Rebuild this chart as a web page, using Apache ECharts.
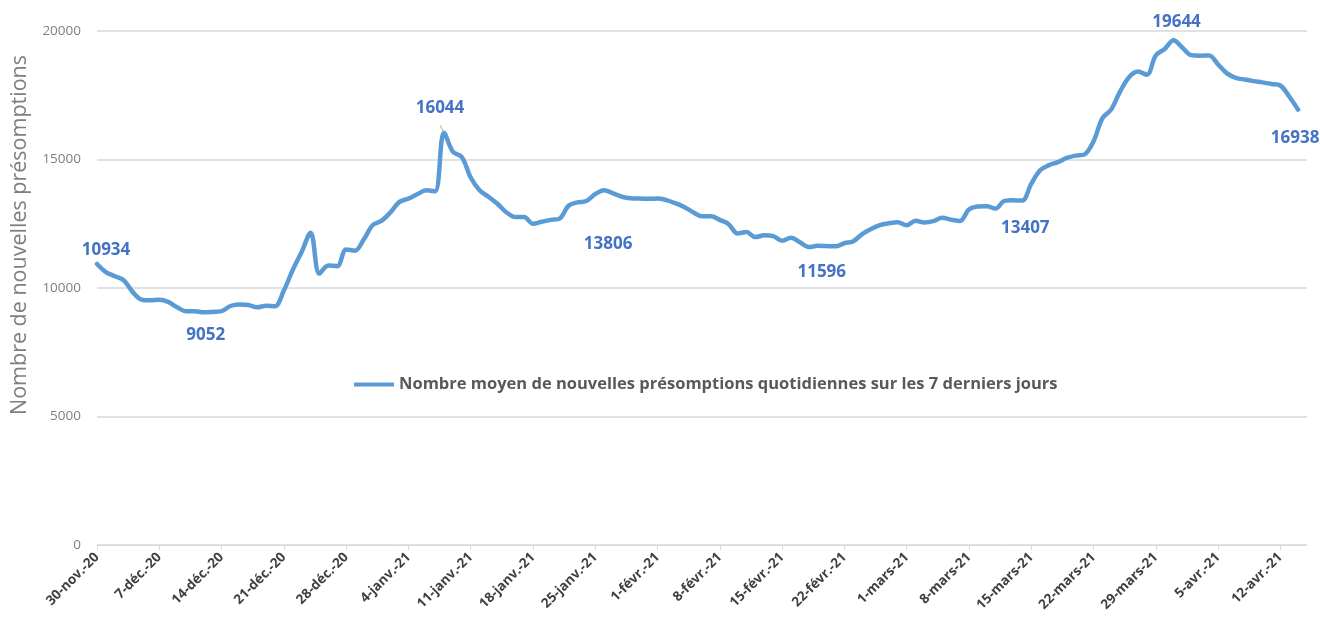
<!DOCTYPE html>
<html>
<head>
<meta charset="utf-8">
<script src="https://cdn.jsdelivr.net/npm/echarts@6/dist/echarts.min.js"></script>
<style>
  html, body { margin: 0; padding: 0; background: #fff; }
  #main { width: 1320px; height: 622px; }
</style>
</head>
<body>
<div id="main"></div>
<script>
// mois en français (format Excel)
var moisFr = ['janv.', 'févr.', 'mars', 'avr.', 'mai', 'juin', 'juil.', 'août', 'sept.', 'oct.', 'nov.', 'déc.'];

// moyenne glissante 7 jours, du 30-nov.-20 au 14-avr.-21
var valeurs = [
    10934, 10620, 10460, 10300, 9850, 9550, 9520, 9540, 9460, 9250,
    9100, 9100, 9052, 9070, 9100, 9300, 9360, 9340, 9250, 9310,
    9290, 9900, 10700, 11400, 12150, 10560, 10880, 10850, 11500, 11450,
    11900, 12450, 12620, 12950, 13350, 13480, 13650, 13800, 13760, 16044,
    15300, 15100, 14300, 13800, 13550, 13280, 12950, 12760, 12760, 12500,
    12580, 12650, 12700, 13200, 13330, 13386, 13650, 13806, 13680, 13550,
    13490, 13480, 13470, 13480, 13420, 13300, 13150, 12950, 12790, 12790,
    12650, 12480, 12120, 12180, 11980, 12050, 12020, 11840, 11960, 11780,
    11596, 11640, 11630, 11620, 11740, 11820, 12100, 12300, 12450, 12520,
    12560, 12440, 12620, 12550, 12600, 12730, 12660, 12610, 13050, 13170,
    13180, 13090, 13390, 13410, 13407, 14050, 14580, 14780, 14900, 15060,
    15150, 15200, 15700, 16600, 16950, 17650, 18200, 18420, 18300, 19050,
    19300, 19644, 19350, 19060, 19040, 19050, 18700, 18350, 18180, 18110,
    18050, 18000, 17940, 17880, 17450, 16938
];

// points annotés
var indicesEtiquetes = [0, 12, 39, 57, 80, 104, 121, 135];

// dates (un jour de plus en fin d'axe, sans valeur)
var dates = [];
var d0 = new Date(2020, 10, 30);
for (var i = 0; i < valeurs.length + 1; i++) {
    var d = new Date(d0.getFullYear(), d0.getMonth(), d0.getDate() + i);
    dates.push(d.getDate() + '-' + moisFr[d.getMonth()] + '-' + String(d.getFullYear()).slice(2));
}

var serieNom = 'Nombre moyen de nouvelles présomptions quotidiennes sur les 7 derniers jours';

// réglages d'étiquette pour chaque point annoté
var reglages = {
    0:   { position: 'top',    distance: 5,  offset: [9, 0] },
    12:  { position: 'bottom', distance: 14, offset: [2, 0] },
    39:  { position: 'top',    distance: 16, offset: [-4, 0], trait: true },
    57:  { position: 'bottom', distance: 45, offset: [4, 0] },
    80:  { position: 'bottom', distance: 17, offset: [13, 0] },
    104: { position: 'bottom', distance: 19, offset: [3, 0] },
    121: { position: 'top',    distance: 9,  offset: [3, 0] },
    135: { position: 'bottom', distance: 20, offset: [-3, 0] }
};

var donnees = valeurs.map(function (v, idx) {
    if (indicesEtiquetes.indexOf(idx) < 0) return v;
    var r = reglages[idx];
    return {
        value: v,
        label: {
            show: true,
            position: r.position,
            distance: r.distance,
            offset: r.offset
        },
        labelLine: { show: !!r.trait }
    };
});
donnees.push(null);

var chart = echarts.init(document.getElementById('main'));

var option = {
    animation: false,
    backgroundColor: '#ffffff',
    grid: {
        left: 97,
        right: 13,
        top: 31,
        bottom: 77
    },
    legend: {
        left: 349,
        top: 371,
        itemWidth: 40,
        itemHeight: 14,
        icon: 'path://M0,5 L40,5 L40,9 L0,9 Z',
        textStyle: {
            fontFamily: 'Open Sans',
            fontWeight: 'bold',
            fontSize: 16.5,
            color: '#595959'
        },
        data: [serieNom]
    },
    xAxis: {
        type: 'category',
        data: dates,
        boundaryGap: false,
        axisLine: { lineStyle: { color: '#d9d9d9', width: 1 } },
        axisTick: { interval: 6, length: 5, lineStyle: { color: '#d9d9d9' } },
        axisLabel: {
            interval: 6,
            rotate: 45,
            margin: 10,
            fontFamily: 'Open Sans',
            fontWeight: 'bold',
            fontSize: 13.5,
            color: '#404040'
        },
        splitLine: { show: false }
    },
    yAxis: {
        type: 'value',
        min: 0,
        max: 20000,
        interval: 5000,
        axisLine: { show: false },
        axisTick: { show: false },
        axisLabel: {
            margin: 16,
            fontFamily: 'Open Sans',
            fontSize: 13.5,
            color: '#7f7f7f',
            formatter: function (v) { return String(v); }
        },
        splitLine: { lineStyle: { color: '#d9d9d9', width: 1.5 } }
    },
    graphic: [
        {
            type: 'text',
            x: 20,
            y: 235,
            rotation: Math.PI / 2,
            style: {
                text: 'Nombre de nouvelles présomptions',
                fontFamily: 'Open Sans',
                fontSize: 21.5,
                fill: '#7f7f7f',
                align: 'center',
                verticalAlign: 'middle'
            }
        }
    ],
    series: [
        {
            name: serieNom,
            type: 'line',
            data: donnees,
            smooth: 0.35,
            symbol: 'circle',
            symbolSize: 0,
            showSymbol: true,
            showAllSymbol: true,
            connectNulls: false,
            lineStyle: { color: '#5b9bd5', width: 4.5, cap: 'round', join: 'round' },
            itemStyle: { color: '#5b9bd5' },
            label: {
                show: false,
                fontFamily: 'Open Sans',
                fontWeight: 'bold',
                fontSize: 17,
                color: '#4472c4'
            },
            labelLine: {
                show: false,
                lineStyle: { color: '#a6a6a6', width: 1 }
            }
        }
    ]
};

chart.setOption(option);
</script>
</body>
</html>
